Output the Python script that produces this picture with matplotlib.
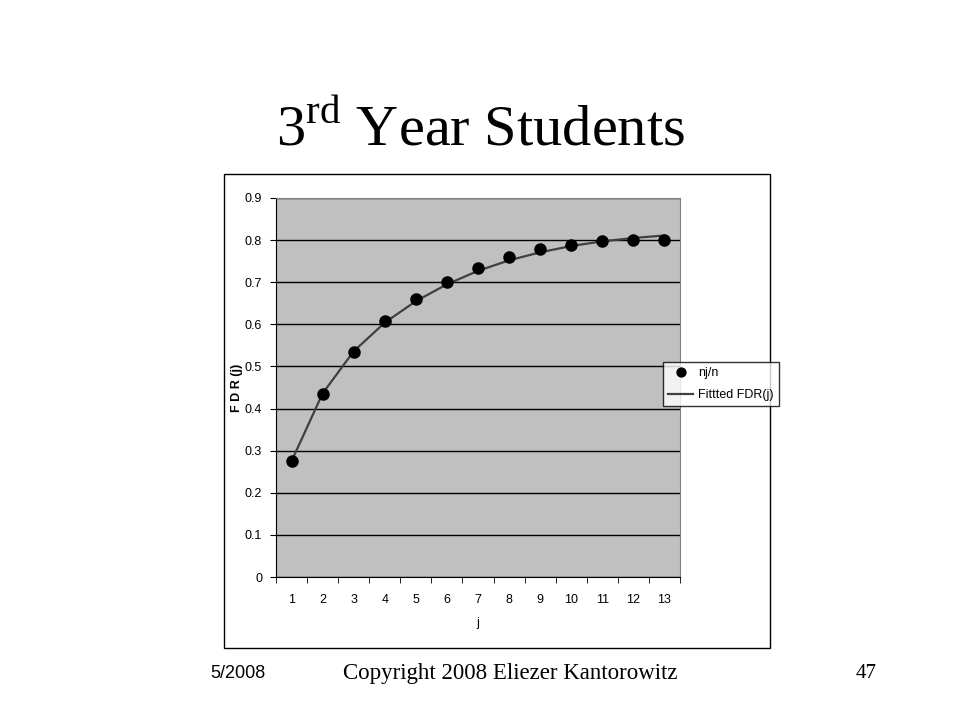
import matplotlib.pyplot as plt
from matplotlib.patches import Rectangle

plt.rcParams['mathtext.fontset'] = 'custom'
plt.rcParams['mathtext.rm'] = 'Liberation Serif'

j = list(range(1, 14))
nj_n = [0.275, 0.435, 0.535, 0.607, 0.659, 0.700, 0.733, 0.759, 0.778, 0.788, 0.799, 0.800, 0.800]
fitted = [0.275, 0.436, 0.536, 0.604, 0.655, 0.695, 0.727, 0.752, 0.771, 0.786, 0.797, 0.805, 0.811]
yticks = [0, 0.1, 0.2, 0.3, 0.4, 0.5, 0.6, 0.7, 0.8, 0.9]
ylabels = ['0', '0.1', '0.2', '0.3', '0.4', '0.5', '0.6', '0.7', '0.8', '0.9']

fig = plt.figure(figsize=(9.6, 7.2), dpi=100)

# chart outer frame
fig.patches.append(Rectangle((224/960, 1-648/720), 546/960, 474/720, transform=fig.transFigure,
                             fill=False, edgecolor='black', linewidth=1))

ax = fig.add_axes([276/960, 1-577/720, 404/960, 379/720])
ax.set_facecolor('#c0c0c0')
ax.plot(j, fitted, color='#404040', linewidth=1.6, label='Fittted FDR(j)', zorder=3)
ax.plot(j, nj_n, linestyle='none', marker='o', color='black', markersize=8, label='nj/n', zorder=4)

ax.set_xlim(0.5, 13.5)
ax.set_ylim(0, 0.9)
ax.set_yticks(yticks)
ax.set_yticklabels(ylabels, fontsize=9, family='Liberation Sans')
ax.set_xticks(j)
ax.set_xticklabels([str(v) for v in j], fontsize=9, family='Liberation Sans')
ax.set_xticks([v + 0.5 for v in range(0, 14)], minor=True)
ax.tick_params(axis='x', which='major', length=0, pad=12)
ax.tick_params(axis='x', which='minor', length=4, direction='out')
ax.tick_params(axis='y', length=4, direction='out', pad=6)
ax.grid(axis='y', color='black', linewidth=1)
ax.set_axisbelow(True)
for s in ['top', 'right']:
    ax.spines[s].set_color('#808080')
ax.spines['left'].set_color('black')
ax.spines['bottom'].set_color('black')

ax.set_xlabel('j', fontsize=9, family='Liberation Sans', labelpad=8)
ax.set_ylabel('F D R (j)', fontsize=9, family='Liberation Sans', fontweight='bold', labelpad=1)

handles, labels = ax.get_legend_handles_labels()
leg = fig.legend([handles[1], handles[0]], [labels[1], labels[0]],
                 loc='upper left', bbox_to_anchor=(663/960, 1-362/720),
                 prop={'family': 'Liberation Sans', 'size': 9}, frameon=True, fancybox=False,
                 edgecolor='black', borderpad=0.4, handlelength=2.0, handletextpad=0.4,
                 labelspacing=0.8, borderaxespad=0, markerscale=0.8)
leg.get_frame().set_linewidth(1)

fig.text(0.5, 1-130/720, r'3$^{\mathrm{rd}}$ Year Students', ha='center', va='center',
         fontsize=42, family='Liberation Serif')
fig.text(210/960, 1-673/720, '5/2008', ha='left', va='center', fontsize=13, family='Liberation Sans')
fig.text(510/960, 1-673/720, 'Copyright 2008 Eliezer Kantorowitz', ha='center', va='center',
         fontsize=16.5, family='Liberation Serif')
fig.text(866/960, 1-673/720, '47', ha='center', va='center', fontsize=15, family='Liberation Serif')

fig.savefig('out.png', dpi=100)
